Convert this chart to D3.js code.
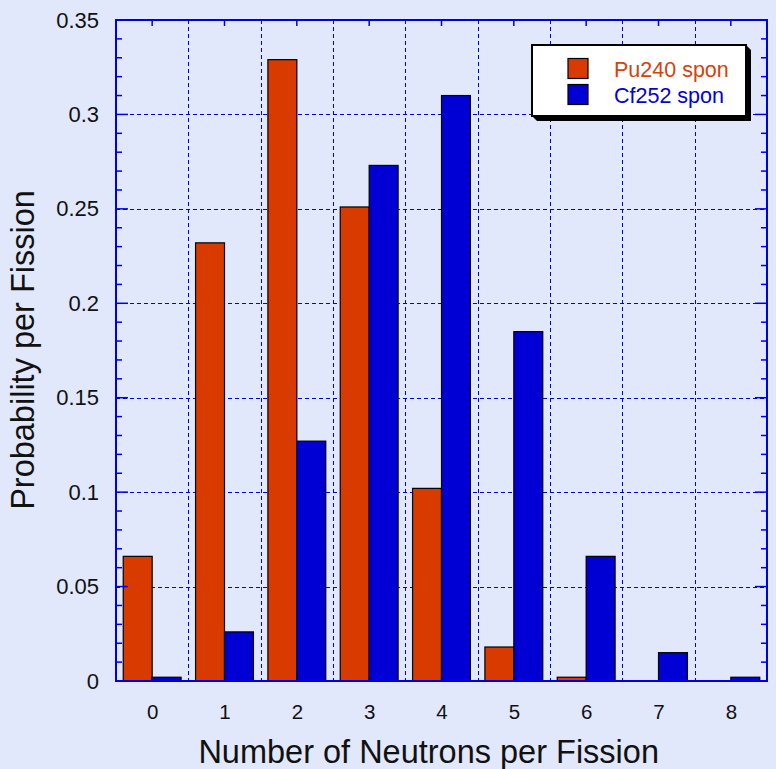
<!DOCTYPE html>
<html>
<head>
<meta charset="utf-8">
<script src="https://cdn.jsdelivr.net/npm/d3@7/dist/d3.min.js"></script>
<style>
  html, body { margin: 0; padding: 0; background: #e2e8fc; }
  svg { display: block; }
  text { font-family: "Liberation Sans", Arial, Helvetica, sans-serif; }
</style>
</head>
<body>
<svg id="chart" width="776" height="769"></svg>
<script>
// Neutron multiplicity distributions for spontaneous fission
const neutrons = [0, 1, 2, 3, 4, 5, 6, 7, 8];
const pu240 = [0.066, 0.232, 0.329, 0.251, 0.102, 0.018, 0.002, 0, 0];
const cf252 = [0.002, 0.026, 0.127, 0.273, 0.310, 0.185, 0.066, 0.015, 0.002];
const seriesNames = ["Pu240 spon", "Cf252 spon"];
const yTicks = [0, 0.05, 0.1, 0.15, 0.2, 0.25, 0.3, 0.35];
const yTickLabels = ["0", "0.05", "0.1", "0.15", "0.2", "0.25", "0.3", "0.35"];
const yMinorTicks = d3.range(0, 36).map(d => d / 100);
const xBoundaries = [0.5, 1.5, 2.5, 3.5, 4.5, 5.5, 6.5, 7.5];

const colors = { pu: "#d83a00", cf: "#0000d4" };
const axisBlue = "#0000e6";

const svg = d3.select("#chart");
const plotL = 116, plotR = 767, plotT = 20, plotB = 681;

const x = d3.scaleLinear().domain([-0.5, 8.5]).range([plotL, plotR]);
const y = d3.scaleLinear().domain([0, 0.35]).range([plotB, plotT]);
const barW = 0.4;

// dashed grid
const grid = svg.append("g");
grid.selectAll("line.v").data(xBoundaries).join("line")
  .attr("x1", d => Math.round(x(d)) + 0.5).attr("x2", d => Math.round(x(d)) + 0.5)
  .attr("y1", plotT).attr("y2", plotB)
  .attr("stroke", axisBlue).attr("stroke-width", 1).attr("stroke-dasharray", "4,3");
grid.selectAll("line.h").data(yTicks.slice(1, -1)).join("line")
  .attr("x1", plotL).attr("x2", plotR)
  .attr("y1", d => Math.round(y(d)) + 0.5).attr("y2", d => Math.round(y(d)) + 0.5)
  .attr("stroke", axisBlue).attr("stroke-width", 1).attr("stroke-dasharray", "4,3");

// bars
const bars = svg.append("g").attr("stroke", "#000").attr("stroke-width", 1.2);
bars.selectAll("rect.pu").data(neutrons).join("rect")
  .attr("x", d => x(d - barW)).attr("width", x(barW) - x(0))
  .attr("y", (d, i) => y(pu240[i])).attr("height", (d, i) => y(0) - y(pu240[i]))
  .attr("fill", colors.pu);
bars.selectAll("rect.cf").data(neutrons).join("rect")
  .attr("x", d => x(d)).attr("width", x(barW) - x(0))
  .attr("y", (d, i) => y(cf252[i])).attr("height", (d, i) => y(0) - y(cf252[i]))
  .attr("fill", colors.cf);

// frame and tick marks
const axes = svg.append("g").attr("stroke", axisBlue);
axes.append("rect").attr("x", plotL).attr("y", plotT)
  .attr("width", plotR - plotL).attr("height", plotB - plotT)
  .attr("fill", "none").attr("stroke-width", 2);

const isMajor = v => Math.abs(Math.round(v * 20) - v * 20) < 1e-6;
axes.selectAll("line.lt").data(yMinorTicks).join("line")
  .attr("x1", plotL).attr("x2", d => plotL + (isMajor(d) ? 12 : 6))
  .attr("y1", d => y(d)).attr("y2", d => y(d)).attr("stroke-width", 1.5);
axes.selectAll("line.rt").data(yMinorTicks).join("line")
  .attr("x1", plotR).attr("x2", d => plotR - (isMajor(d) ? 12 : 6))
  .attr("y1", d => y(d)).attr("y2", d => y(d)).attr("stroke-width", 1.5);
axes.selectAll("line.tt").data(neutrons).join("line")
  .attr("x1", d => x(d)).attr("x2", d => x(d))
  .attr("y1", plotT).attr("y2", plotT + 6).attr("stroke-width", 1.5);

// tick labels via d3 axes (lines removed, only text kept)
const yAxis = svg.append("g").attr("transform", `translate(${plotL},0)`)
  .call(d3.axisLeft(y).tickValues(yTicks).tickSize(0).tickPadding(17)
    .tickFormat((d, i) => yTickLabels[i]));
const xAxis = svg.append("g").attr("transform", `translate(0,${plotB})`)
  .call(d3.axisBottom(x).tickValues(neutrons).tickSize(0).tickPadding(23)
    .tickFormat(d3.format("d")));
[yAxis, xAxis].forEach((g, k) => {
  g.select(".domain").remove();
  g.selectAll("text").attr("font-size", k === 0 ? 22 : 20.5).attr("fill", "#111")
    .attr("font-family", "Liberation Sans, Arial, sans-serif");
});

// axis titles
svg.append("text").attr("x", 428.7).attr("y", 763)
  .attr("text-anchor", "middle").attr("font-size", 32.5).attr("fill", "#111")
  .text("Number of Neutrons per Fission");
svg.append("text").attr("transform", "translate(34,350) rotate(-90)")
  .attr("text-anchor", "middle").attr("font-size", 32.5).attr("fill", "#111")
  .text("Probability per Fission");

// legend
const lg = svg.append("g");
const lx = 532, ly = 45, lw = 214, lh = 71, sh = 5;
lg.append("polygon")
  .attr("points", [[lx + lw, ly], [lx + lw + sh, ly + sh], [lx + lw + sh, ly + lh + sh],
                   [lx + sh, ly + lh + sh], [lx, ly + lh]].map(p => p.join(",")).join(" "))
  .attr("fill", "#000");
lg.append("rect").attr("x", lx).attr("y", ly).attr("width", lw).attr("height", lh)
  .attr("fill", "#fff").attr("stroke", "#000").attr("stroke-width", 2);
const legendItems = [
  { name: seriesNames[0], fill: colors.pu, text: "#d8400c" },
  { name: seriesNames[1], fill: colors.cf, text: "#0000e0" }
];
legendItems.forEach((it, i) => {
  lg.append("rect").attr("x", 568).attr("y", 58.5 + i * 26).attr("width", 20).attr("height", 20)
    .attr("fill", it.fill).attr("stroke", "#000").attr("stroke-width", 1.2);
  lg.append("text").attr("x", 614).attr("y", 77 + i * 26)
    .attr("font-size", 21.5).attr("fill", it.text).text(it.name);
});
</script>
</body>
</html>
